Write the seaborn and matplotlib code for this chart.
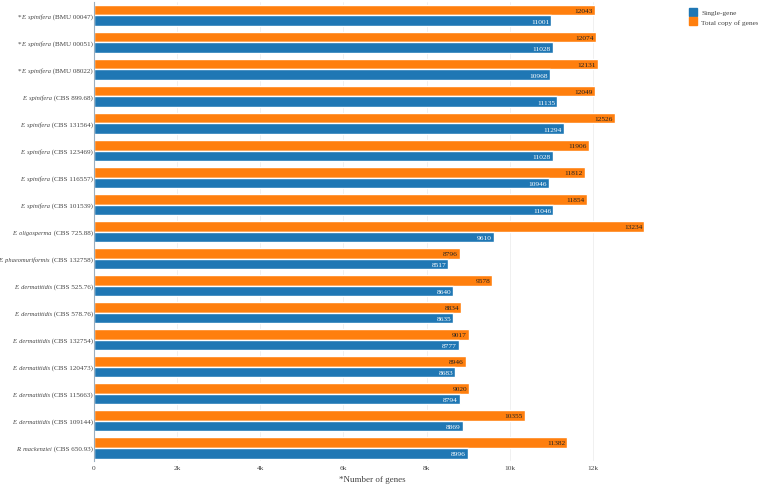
import pandas as pd
import seaborn as sns
import matplotlib.pyplot as plt
from matplotlib.ticker import FuncFormatter
from matplotlib.lines import Line2D
from matplotlib.transforms import blended_transform_factory, ScaledTranslation

# strains, top to bottom
prefixes = ['*', '*', '*', '', '', '', '', '', '', '', '', '', '', '', '', '', '']
species = ['E. spinifera', 'E. spinifera', 'E. spinifera', 'E. spinifera', 'E. spinifera',
           'E. spinifera', 'E. spinifera', 'E. spinifera', 'E. oligosperma', 'E. phaeomuriformis',
           'E. dermatitidis', 'E. dermatitidis', 'E. dermatitidis', 'E. dermatitidis',
           'E. dermatitidis', 'E. dermatitidis', 'R. mackenziei']
strains = ['BMU 00047', 'BMU 00051', 'BMU 08022', 'CBS 899.68', 'CBS 131564', 'CBS 123469',
           'CBS 116557', 'CBS 101539', 'CBS 725.88', 'CBS 132758', 'CBS 525.76', 'CBS 578.76',
           'CBS 132754', 'CBS 120473', 'CBS 115663', 'CBS 109144', 'CBS 650.93']
single_gene = [11001, 11028, 10968, 11135, 11294, 11028, 10946, 11046, 9610, 8517,
               8640, 8635, 8777, 8683, 8794, 8869, 8996]
total_copy = [12043, 12074, 12131, 12049, 12526, 11906, 11812, 11854, 13234, 8796,
              9578, 8834, 9017, 8946, 9020, 10355, 11382]

series_names = ['Single-gene', 'Total copy of genes']
colors = {'Single-gene': '#1f77b4', 'Total copy of genes': '#ff7f0e'}

sns.set_style('white')
plt.rcParams['font.family'] = ['Liberation Serif', 'DejaVu Serif']

labels = [p + sp + ' (' + st + ')' for p, sp, st in zip(prefixes, species, strains)]

df = pd.DataFrame({'strain': labels * 2,
                   'genes': total_copy + single_gene,
                   'kind': ['Total copy of genes'] * len(labels) + ['Single-gene'] * len(labels)})

fig = plt.figure(figsize=(7.58, 4.85), dpi=100)
ax = fig.add_axes([0.124, 0.047, 0.735, 0.947])

sns.barplot(data=df, y='strain', x='genes', hue='kind',
            hue_order=['Total copy of genes', 'Single-gene'],
            palette=colors, orient='h', width=0.8, saturation=1, ax=ax, legend=False)

# value labels just inside the end of each bar
for cont, vals, col in [(ax.containers[0], total_copy, '#222222'),
                        (ax.containers[1], single_gene, 'white')]:
    for bar, v in zip(cont.patches, vals):
        ax.annotate(str(v), (bar.get_width(), bar.get_y() + bar.get_height() / 2),
                    xytext=(-1.5, 0), textcoords='offset points', ha='right',
                    va='center_baseline', fontsize=5.3, color=col)

ax.set_xlim(0, 13400)
ax.set_xticks(range(0, 13000, 2000))
ax.xaxis.set_major_formatter(FuncFormatter(lambda v, pos: '0' if v == 0 else '%dk' % (v / 1000)))
ax.grid(axis='x', color='#eeeeee', linewidth=0.6)
ax.set_axisbelow(True)
ax.tick_params(axis='both', length=0, labelsize=5.3, colors='#444444', pad=3)
ax.set_yticklabels([])
ax.set_ylabel('')
ax.set_xlabel('*Number of genes', fontsize=6.5, color='#444444', labelpad=3)

for s in ['top', 'right', 'bottom']:
    ax.spines[s].set_visible(False)
ax.spines['left'].set_color('#9aaebf')
ax.spines['left'].set_linewidth(0.8)

# y labels: italic species name, roman strain code
fig.canvas.draw()
renderer = fig.canvas.get_renderer()
base = blended_transform_factory(ax.transAxes, ax.transData)
for i, (p, sp, st) in enumerate(zip(prefixes, species, strains)):
    shift = 1.0
    for txt, style, size in [(' (' + st + ')', 'normal', 5.1), (sp, 'italic', 4.6), (p, 'normal', 5.1)]:
        if not txt:
            continue
        t = ax.text(0, i, txt, ha='right', va='center_baseline', fontsize=size, style=style,
                    color='#444444',
                    transform=base + ScaledTranslation(-shift / 100, 0, fig.dpi_scale_trans))
        shift += t.get_window_extent(renderer).width

handles = [Line2D([], [], marker='s', linestyle='', markersize=6,
                  color=colors[n]) for n in series_names]
fig.legend(handles, series_names, loc='upper left', bbox_to_anchor=(0.9, 0.993),
           frameon=False, fontsize=5.3, handletextpad=0.5, labelspacing=0.45,
           handlelength=1.2, labelcolor='#444444')

plt.savefig('out.png', dpi=100)
